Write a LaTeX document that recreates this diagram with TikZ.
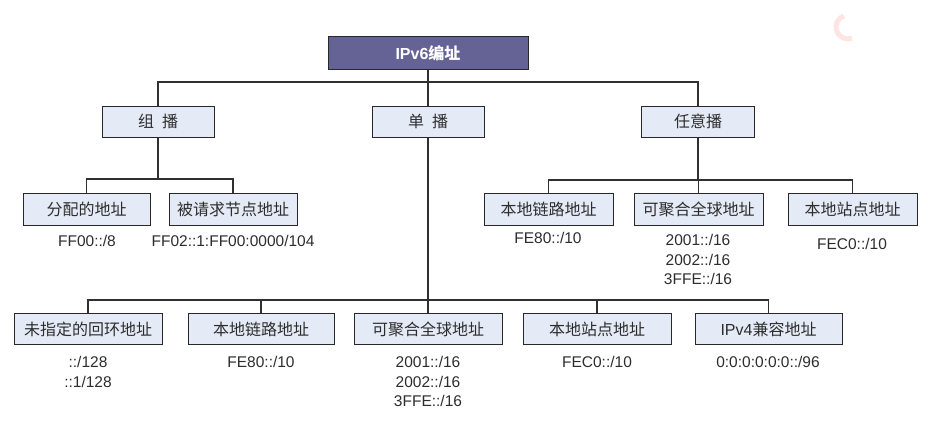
\documentclass[tikz,border=0pt]{standalone}
\usepackage{fontspec}
\setmainfont{Liberation Sans}
\newfontfamily\lsans{Liberation Sans}
\newfontfamily\cjk{Noto Sans CJK SC}
\definecolor{edge}{RGB}{48,48,48}
\definecolor{boxline}{RGB}{40,40,40}
\definecolor{boxfill}{RGB}{229,235,246}
\definecolor{rootfill}{RGB}{101,99,150}
\definecolor{txt}{RGB}{45,45,45}
\definecolor{logotint}{RGB}{255,228,228}
\begin{document}
\begin{tikzpicture}[x=1pt,y=-1pt,
  box/.style={draw=boxline, line width=1pt, fill=boxfill, inner sep=0pt,
    minimum height=31pt, text=txt, font=\cjk\fontsize{16}{18}\selectfont},
  root/.style={box, fill=rootfill, text=white, minimum height=32pt,
    font=\cjk\bfseries\fontsize{16}{18}\selectfont},
  addr/.style={inner sep=0pt, align=center, anchor=north, text=txt,
    font=\lsans\fontsize{15.5}{19.5}\selectfont},
  link/.style={draw=edge, line width=1.1pt}]
\useasboundingbox (0,0) rectangle (933,420);

% faint logo mark in the corner
\draw[draw=logotint, line width=5pt] (848,27) ++(70:12) arc[start angle=70, end angle=250, radius=12];

% root and first level
\node[root, minimum width=200pt] (root) at (428,53) {{\lsans IPv6}编址};
\node[box, minimum width=112pt] (mc) at (158,121.5) {组\hspace{0.5em}播};
\node[box, minimum width=112pt] (uc) at (428,121.5) {单\hspace{0.5em}播};
\node[box, minimum width=113pt] (ac) at (698,121.5) {任意播};

% multicast children
\node[box, minimum width=127pt, minimum height=32pt] (m1) at (86.5,209) {分配的地址};
\node[box, minimum width=128pt, minimum height=32pt] (m2) at (233,209) {被请求节点地址};
\node[addr] (m1t) at (87,235.5) {FF00::/8};
\node[addr] (m2t) at (233,235.5) {FF02::1:FF00:0000/104};

% anycast children
\node[box, minimum width=129pt, minimum height=32pt] (a1) at (548.5,209) {本地链路地址};
\node[box, minimum width=129pt, minimum height=32pt] (a2) at (698.5,209) {可聚合全球地址};
\node[box, minimum width=129pt, minimum height=32pt] (a3) at (852.5,209) {本地站点地址};
\node[addr] (a1t) at (548,232.5) {FE80::/10};
\node[addr] (a2t) at (698,234.5) {2001::/16\\2002::/16\\3FFE::/16};
\node[addr] (a3t) at (852,238.5) {FEC0::/10};

% unicast children
\node[box, minimum width=148pt] (u1) at (88,329) {未指定的回环地址};
\node[box, minimum width=146pt] (u2) at (261,329) {本地链路地址};
\node[box, minimum width=148pt] (u3) at (428,329) {可聚合全球地址};
\node[box, minimum width=148pt] (u4) at (597,329) {本地站点地址};
\node[box, minimum width=147pt] (u5) at (768.5,329) {{\lsans IPv4}兼容地址};
\node[addr] (u1t) at (88,356.5) {::/128\\::1/128};
\node[addr] (u2t) at (261,356.5) {FE80::/10};
\node[addr] (u3t) at (428,356.5) {2001::/16\\2002::/16\\3FFE::/16};
\node[addr] (u4t) at (597,356.5) {FEC0::/10};
\node[addr] (u5t) at (768,356.5) {0:0:0:0:0:0::/96};

% junction rows
\coordinate (j0) at (0,82);
\coordinate (jm) at (0,179);
\coordinate (ja) at (0,180);
\coordinate (ju) at (0,300);

% connectors
\draw[link] (root.south) -- (uc.north);
\draw[link] (mc.north) -- (mc.north |- j0) -- (ac.north |- j0) -- (ac.north);

\draw[link] (mc.south) -- (mc.south |- jm);
\draw[link] (m1.north) -- (m1.north |- jm) -- (m2.north |- jm) -- (m2.north);

\draw[link] (ac.south) -- (ac.south |- ja);
\draw[link] (a1.north) -- (a1.north |- ja) -- (a3.north |- ja) -- (a3.north);
\draw[link] (a2.north) -- (a2.north |- ja);

\draw[link] (uc.south) -- (uc.south |- ju);
\draw[link] (u1.north) -- (u1.north |- ju) -- (u5.north |- ju) -- (u5.north);
\draw[link] (u2.north) -- (u2.north |- ju);
\draw[link] (u3.north) -- (u3.north |- ju);
\draw[link] (u4.north) -- (u4.north |- ju);
\end{tikzpicture}
\end{document}
